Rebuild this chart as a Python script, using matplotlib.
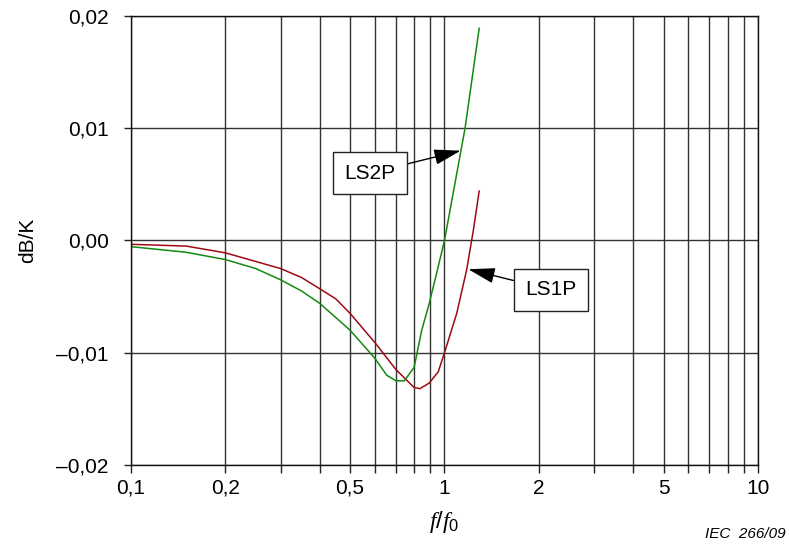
import numpy as np
import matplotlib
matplotlib.use('Agg')
import matplotlib.pyplot as plt
from matplotlib.ticker import FixedLocator, FixedFormatter, NullFormatter

# data (f/f0, dB/K)
ls1p_f = [0.1, 0.15, 0.2, 0.3, 0.35, 0.4, 0.45, 0.5, 0.6, 0.7, 0.8, 0.835,
          0.894, 0.955, 1.0, 1.094, 1.177, 1.236, 1.29]
ls1p_db = [-0.00034, -0.0005, -0.0011, -0.0025, -0.0033, -0.0043, -0.0052,
           -0.0065, -0.0091, -0.0115, -0.0131, -0.0132, -0.0127, -0.0117,
           -0.0100, -0.0065, -0.0026, 0.0009, 0.0044]

ls2p_f = [0.1, 0.15, 0.2, 0.25, 0.3, 0.35, 0.4, 0.5, 0.6, 0.654, 0.7, 0.745,
          0.8, 0.846, 0.894, 0.944, 1.0, 1.163, 1.29]
ls2p_db = [-0.00055, -0.00105, -0.0017, -0.0025, -0.0035, -0.0045, -0.0056,
           -0.0080, -0.0105, -0.0120, -0.0125, -0.0125, -0.0113, -0.0080,
           -0.0056, -0.0029, 0.0000, 0.0100, 0.0189]

x_ticks = [0.1, 0.2, 0.5, 1, 2, 5, 10]
x_labels = ['0,1', '0,2', '0,5', '1', '2', '5', '10']
x_grid = [0.1, 0.2, 0.3, 0.4, 0.5, 0.6, 0.7, 0.8, 0.9,
          1, 2, 3, 4, 5, 6, 7, 8, 9, 10]
y_ticks = [-0.02, -0.01, 0.0, 0.01, 0.02]
y_labels = ['\u20130,02', '\u20130,01', '0,00', '0,01', '0,02']

plt.rcParams['font.family'] = ['Liberation Sans', 'DejaVu Sans']
plt.rcParams['mathtext.fontset'] = 'custom'
plt.rcParams['mathtext.it'] = 'Liberation Serif:italic'
plt.rcParams['mathtext.rm'] = 'Liberation Sans'

fig = plt.figure(figsize=(7.9, 5.55), dpi=100)
ax = fig.add_axes([0.1658, 0.1622, 0.7937, 0.809])

ax.set_xscale('log')
ax.set_xlim(0.1, 10)
ax.set_ylim(-0.02, 0.02)

ax.xaxis.set_major_locator(FixedLocator(x_ticks))
ax.xaxis.set_major_formatter(FixedFormatter(x_labels))
ax.xaxis.set_minor_locator(FixedLocator([g for g in x_grid if g not in x_ticks]))
ax.xaxis.set_minor_formatter(NullFormatter())
ax.yaxis.set_major_locator(FixedLocator(y_ticks))
ax.yaxis.set_major_formatter(FixedFormatter(y_labels))

ax.tick_params(axis='both', which='both', direction='out', length=5,
               width=1, color='#222222', labelsize=15)
ax.tick_params(axis='x', which='both', length=6, pad=4)
ax.tick_params(axis='y', pad=11)
ax.grid(True, which='both', axis='x', color='#333333', linewidth=1)
ax.grid(True, which='major', axis='y', color='#333333', linewidth=1)
ax.set_axisbelow(True)
for sp in ax.spines.values():
    sp.set_linewidth(1)
    sp.set_color('#111111')

ax.plot(ls1p_f, ls1p_db, color='#9e0a14', linewidth=1.1)
ax.plot(ls2p_f, ls2p_db, color='#128a12', linewidth=1.1)

box = dict(boxstyle='square,pad=0.55', facecolor='white', edgecolor='#222222', linewidth=1)
arrow = dict(arrowstyle='-|>,head_length=1.1,head_width=0.32', color='black',
             linewidth=1, shrinkA=0, shrinkB=0)
ax.annotate('LS2P', xy=(1.126, 0.0080), xytext=(0.579, 0.0060),
            fontsize=15, ha='center', va='center', bbox=box, arrowprops=arrow)
ax.annotate('LS1P', xy=(1.191, -0.00256), xytext=(2.186, -0.0044),
            fontsize=15, ha='center', va='center', bbox=box, arrowprops=arrow)

ax.set_ylabel('dB/K', fontsize=15)
ax.yaxis.set_label_coords(-0.15, 0.5)
fig.text(0.562, 0.059, r'$\mathit{f/f}_{\mathrm{0}}$', fontsize=17,
         ha='center', va='center')
fig.text(0.995, 0.03, 'IEC  266/09', fontsize=11, style='italic', ha='right')

fig.savefig('out.png', dpi=100)
